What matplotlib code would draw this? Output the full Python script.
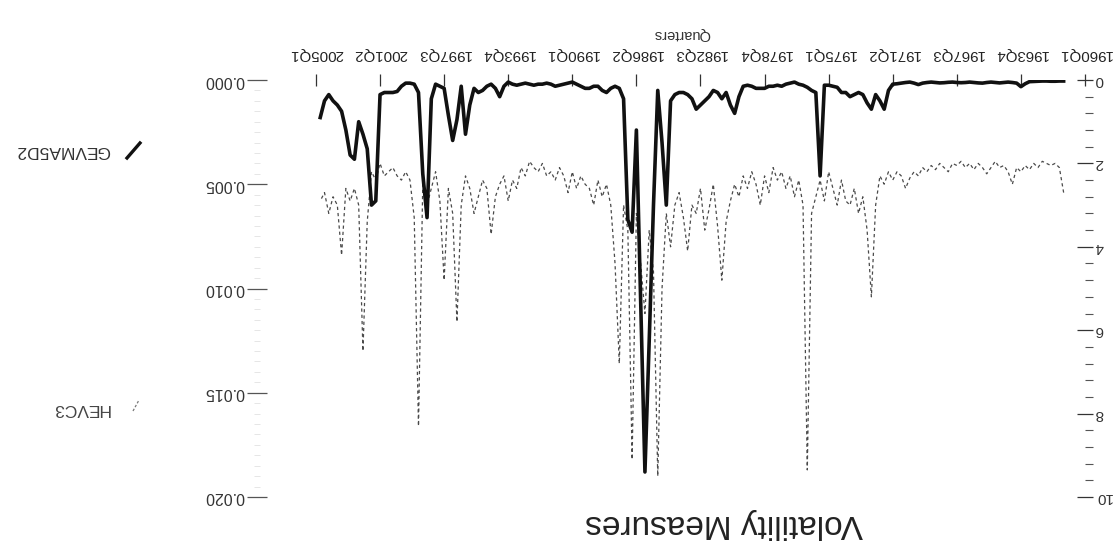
import numpy as np
import matplotlib
matplotlib.use("Agg")
import matplotlib.pyplot as plt
from matplotlib.ticker import MultipleLocator, FixedLocator, FuncFormatter
from matplotlib.lines import Line2D

plt.rcParams['font.family'] = ['Liberation Sans', 'DejaVu Sans']

# ---------------- data ----------------
first_quarter = 5  # quarters after 1960Q1 (1961Q2)

gevma5d2 = [
    0.00005, 0.00005, 0.00006, 0.00006, 0.00005, 0.00005, 0.00006, 0.00007, 0.00008, 0.00018,
    0.00032, 0.00015, 0.00012, 0.0001, 0.00012, 0.00014, 0.00012, 0.0001, 0.00012, 0.00015,
    0.00014, 0.00012, 0.0001, 0.00012, 0.00013, 0.00012, 0.0001, 0.00011, 0.00013, 0.00014,
    0.00012, 0.0001, 0.00012, 0.00015, 0.00022, 0.00015, 0.0001, 0.00012, 0.00015, 0.00018,
    0.0002, 0.0005, 0.0014, 0.001, 0.0007, 0.0014, 0.0011, 0.0007, 0.0006, 0.0007,
    0.0008, 0.0006, 0.0006, 0.00035, 0.0003, 0.00025, 0.00025, 0.0046, 0.0006, 0.0005,
    0.00035, 0.00025, 0.0002, 0.0001, 0.00015, 0.0002, 0.0003, 0.00025, 0.0003, 0.0003,
    0.0004, 0.0004, 0.0004, 0.0003, 0.00025, 0.0003, 0.0008, 0.0016, 0.0012, 0.0006,
    0.0009, 0.0006, 0.0005, 0.0008, 0.001, 0.0012, 0.0014, 0.0009, 0.0007, 0.0006,
    0.0006, 0.0007, 0.001, 0.006, 0.003, 0.0005, 0.006, 0.0125, 0.0188, 0.0106,
    0.0024, 0.0073, 0.0067, 0.0009, 0.0004, 0.0003, 0.0004, 0.0006, 0.0005, 0.0003,
    0.0003, 0.0004, 0.0004, 0.0003, 0.0002, 0.0001, 0.00015, 0.0002, 0.00025, 0.0003,
    0.0002, 0.00015, 0.0002, 0.0002, 0.00025, 0.0002, 0.00015, 0.0002, 0.00025, 0.0002,
    0.0001, 0.0003, 0.0008, 0.0004, 0.0002, 0.0003, 0.0005, 0.0006, 0.0004, 0.0012,
    0.0026, 0.0003, 0.0019, 0.0029, 0.0017, 0.0004, 0.0003, 0.0002, 0.0009, 0.0066,
    0.0045, 0.0006, 0.0002, 0.00015, 0.00015, 0.0003, 0.00055, 0.0006, 0.0006, 0.0006,
    0.0007, 0.0058, 0.006, 0.0033, 0.0026, 0.002, 0.0038, 0.0036, 0.0024, 0.0015,
    0.0012, 0.001, 0.0007, 0.001, 0.0018,
]

hevc3 = [
    2.7, 2.1, 2.0, 2.05, 2.0, 1.95, 2.1, 2.0, 2.15, 2.05,
    2.2, 2.1, 2.5, 2.2, 2.05, 2.1, 1.95, 2.1, 2.25, 2.1,
    2.0, 2.15, 2.0, 2.1, 1.95, 2.05, 2.0, 2.2, 2.1, 2.0,
    2.15, 2.05, 2.2, 2.1, 2.3, 2.2, 2.35, 2.6, 2.3, 2.2,
    2.4, 2.2, 2.5, 2.3, 3.0, 5.2, 3.6, 2.8, 3.2, 2.6,
    3.0, 2.9, 2.4, 3.0, 2.6, 2.2, 2.9, 2.4, 2.8, 3.2,
    9.35, 3.0, 2.4, 2.8, 2.3, 2.6, 2.2, 2.4, 2.1, 2.7,
    2.3, 3.0, 2.5, 2.2, 2.6, 2.3, 2.8, 2.5, 2.9, 3.4,
    4.8, 3.5, 2.5, 3.1, 3.6, 2.6, 3.2, 3.0, 4.1, 3.3,
    2.7, 3.0, 4.0, 3.2, 5.0, 9.5, 4.6, 3.6, 5.6, 4.4,
    3.2, 9.1, 3.6, 3.0, 6.8, 4.4, 3.0, 2.5, 2.8, 2.4,
    3.0, 2.6, 2.5, 2.3, 2.6, 2.2, 2.7, 2.3, 2.1, 2.4,
    2.2, 2.3, 2.0, 2.2, 2.1, 1.95, 2.3, 2.1, 2.6, 2.4,
    2.9, 2.3, 2.5, 2.8, 3.7, 2.6, 2.4, 2.8, 3.2, 2.6,
    2.3, 3.0, 5.8, 3.2, 2.6, 4.8, 2.9, 2.2, 2.6, 3.0,
    2.5, 8.3, 3.3, 2.4, 2.2, 2.4, 2.3, 2.1, 2.2, 2.3,
    2.0, 2.4, 2.2, 3.4, 6.5, 3.0, 2.6, 2.9, 2.6, 4.2,
    3.0, 2.8, 3.2, 2.7, 2.9,
]

tick_labels = ['1960Q1', '1963Q4', '1967Q3', '1971Q2', '1975Q1', '1978Q4', '1982Q3',
               '1986Q2', '1990Q1', '1993Q4', '1997Q3', '2001Q2', '2005Q1']
tick_step = 15  # quarters between labelled ticks

left_ticks = [0.000, 0.005, 0.010, 0.015, 0.020]
right_ticks = [0, 2, 4, 6, 8, 10]

# ---------------- figure ----------------
W, H = 1117, 557
fig = plt.figure(figsize=(W / 100, H / 100), dpi=100)
fig.patch.set_facecolor('white')

ax_l, ax_r, ax_t, ax_b = 257, 1085, 80, 497
ax = fig.add_axes([ax_l / W, 1 - ax_b / H, (ax_r - ax_l) / W, (ax_b - ax_t) / H])
ax2 = ax.twinx()

x_g = np.arange(first_quarter, first_quarter + len(gevma5d2))
x_h = np.arange(first_quarter, first_quarter + len(hevc3))

ax2.plot(x_h, hevc3, color='#4a4a4a', lw=0.9, dashes=(2.6, 2.4))
ax.plot(x_g, gevma5d2, color='#111111', lw=2.6, solid_joinstyle='round')

ax.set_zorder(ax2.get_zorder() + 1)
ax.patch.set_visible(False)

# whole chart is upside-down: invert both axes
ax.set_xlim(193.8, 0)
ax.set_ylim(0.020, 0.0)
ax2.set_ylim(10, 0)

for a in (ax, ax2):
    for s in a.spines.values():
        s.set_visible(False)

# x axis (appears at top)
ax.xaxis.tick_top()
ax.xaxis.set_major_locator(FixedLocator([i * tick_step for i in range(len(tick_labels))]))
ax.set_xticklabels(tick_labels)
ax.tick_params(axis='x', direction='inout', length=9, width=0.9, color='#333333',
               labelsize=10.8, labelrotation=180, pad=9, labelcolor='#222222')

# left axis (GEVMA5D2 scale)
ax.yaxis.set_major_locator(FixedLocator(left_ticks))
ax.yaxis.set_minor_locator(MultipleLocator(0.0005))
ax.yaxis.set_major_formatter(FuncFormatter(lambda v, p: f'{v:.3f}'))
ax.tick_params(axis='y', which='major', direction='inout', length=14, width=0.9,
               color='#555555', labelsize=11.5, labelrotation=180, pad=2,
               labelcolor='#333333')
ax.tick_params(axis='y', which='minor', direction='inout', length=4, width=0.6,
               color='#e2e2e2')
for lbl in ax.get_yticklabels():
    lbl.set_va('center')

# right axis (HEVC3 scale)
ax2.yaxis.set_major_locator(FixedLocator(right_ticks))
ax2.yaxis.set_minor_locator(MultipleLocator(0.4))
ax2.tick_params(axis='y', which='major', direction='inout', length=12, width=0.9,
                color='#333333', labelsize=11, labelrotation=180, pad=1,
                labelcolor='#333333')
ax2.tick_params(axis='y', which='minor', direction='out', length=5.5, width=0.8,
                color='#555555')
for lbl in ax2.get_yticklabels():
    lbl.set_va('center')

# axis label "Quarters" and title (both upside-down)
ax.set_xlabel('Quarters', rotation=180, fontsize=10.5, color='#333333', va='center')
ax.xaxis.set_label_position('top')
ax.xaxis.set_label_coords((682 - ax_l) / (ax_r - ax_l), 1 + (ax_t - 38) / (ax_b - ax_t))

fig.suptitle('Volatility Measures', x=724 / W, y=1 - 524 / H, rotation=180,
             fontsize=24, ha='center', va='center', color='#222222')

# legend (drawn upside-down on the left)
fig.text(110 / W, 1 - 150 / H, 'GEVMA5D2', rotation=180, ha='right', va='center',
         fontsize=12.5, color='#333333')
fig.text(110 / W, 1 - 408 / H, 'HEVC3', rotation=180, ha='right', va='center',
         fontsize=12.5, color='#444444')
fig.add_artist(Line2D([127 / W, 140 / W], [1 - 158 / H, 1 - 143 / H],
                      transform=fig.transFigure, color='#111111', lw=2.4))
fig.add_artist(Line2D([133 / W, 139 / W], [1 - 411 / H, 1 - 400 / H],
                      transform=fig.transFigure, color='#777777', lw=0.9,
                      dashes=(2, 1.5)))

fig.savefig('out.png', dpi=100, facecolor='white')
